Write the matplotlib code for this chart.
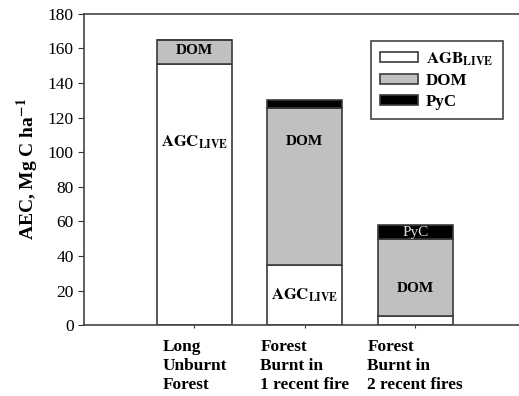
import numpy as np
import matplotlib.pyplot as plt

# Data (Mg C ha-1)
sites = ['Long\nUnburnt\nForest', 'Forest\nBurnt in\n1 recent fire', 'Forest\nBurnt in\n2 recent fires']
agc_live = [151, 34.5, 5]
dom = [14, 91, 45]
pyc = [0, 4.5, 8]

plt.rcParams['font.family'] = ['Liberation Serif', 'DejaVu Serif']
plt.rcParams['mathtext.fontset'] = 'stix'

fig = plt.figure(figsize=(5.19, 3.96), dpi=100)
ax = fig.add_axes([0.162, 0.179, 0.838, 0.786])

x = np.arange(len(sites))
w = 0.68
edge = '#3a3a3a'
agc_live = np.array(agc_live)
dom = np.array(dom)
pyc = np.array(pyc)

ax.bar(x, agc_live, w, color='white', edgecolor=edge, linewidth=1.2, label=r'$\mathbf{AGB}_{\mathbf{LIVE}}$')
ax.bar(x, dom, w, bottom=agc_live, color='#c0c0c0', edgecolor=edge, linewidth=1.2, label='DOM')
ax.bar(x, pyc, w, bottom=agc_live + dom, color='black', edgecolor=edge, linewidth=1.2, label='PyC')

# labels inside the bars
bold = dict(ha='center', va='center', fontsize=11, fontweight='bold')
agc = r'$\mathbf{AGC}_{\mathbf{LIVE}}$'
ax.text(0, 159, 'DOM', **bold)
ax.text(0, 106, agc, ha='center', va='center', fontsize=12)
ax.text(1, 106, 'DOM', **bold)
ax.text(1, 17, agc, ha='center', va='center', fontsize=12)
ax.text(2, 53.5, 'PyC', ha='center', va='center', fontsize=11, color='#dddddd')
ax.text(2, 21, 'DOM', **bold)

ax.set_xlim(-1, 2.94)
ax.set_ylim(0, 180)
ax.set_yticks(np.arange(0, 181, 20))
ax.set_xticks(x)
ax.set_xticklabels(sites, fontsize=12.4, fontweight='bold', ha='center', multialignment='left',
                   linespacing=1.25)
ax.tick_params(axis='y', labelsize=12.5, direction='out', length=4, colors='#333333', labelcolor='black')
ax.tick_params(axis='x', direction='out', length=2, pad=8, colors='#333333', labelcolor='black')
ax.set_ylabel(r'AEC, Mg C ha$^{\mathbf{-1}}$', fontsize=14, fontweight='bold', labelpad=5)

ax.spines['right'].set_visible(False)
for s in ['left', 'top', 'bottom']:
    ax.spines[s].set_color('#444444')
    ax.spines[s].set_linewidth(1.2)

leg = ax.legend(loc='upper right', bbox_to_anchor=(0.963, 0.913), borderaxespad=0, fancybox=False,
                edgecolor='#444444', framealpha=1, prop={'weight': 'bold', 'size': 12.2},
                handlelength=2.2, handleheight=0.5, labelspacing=0.3, borderpad=0.55,
                handletextpad=0.5)
leg.get_frame().set_linewidth(1.2)

plt.savefig('out.png', dpi=100)
